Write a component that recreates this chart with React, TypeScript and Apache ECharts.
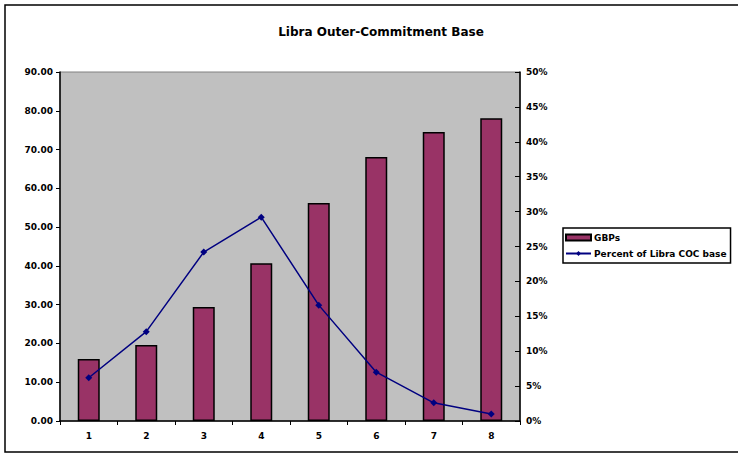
import React, { useEffect, useRef } from "react";
import * as echarts from "echarts";

const categories = ["1", "2", "3", "4", "5", "6", "7", "8"];
const barValues = [16.0, 19.6, 29.4, 40.7, 56.2, 68.1, 74.5, 78.1];
const pctValues = [6.2, 12.8, 24.2, 29.2, 16.6, 7.0, 2.6, 1.0];
const barName = "GBPs";
const lineName = "Percent of Libra COC base";
const titleText = "Libra Outer-Commitment Base";

export default function App() {
  const ref = useRef<HTMLDivElement>(null);
  useEffect(() => {
    document.body.style.margin = "0";
    const chart = echarts.init(ref.current!, null, { renderer: "svg" });
    const font = "'DejaVu Sans', Arial, sans-serif";
    const lbl = { fontSize: 9, fontWeight: "bold", fontFamily: font, color: "#000" };
    chart.setOption({
      animation: false,
      backgroundColor: "#ffffff",
      title: {
        text: titleText,
        left: 376,
        top: 21,
        textAlign: "center",
        textStyle: { fontSize: 12, fontWeight: "bold", fontFamily: font, color: "#000" },
      },
      graphic: [
        {
          type: "rect",
          shape: { x: 5, y: 5, width: 740, height: 447 },
          style: { fill: "none", stroke: "#000", lineWidth: 1.5 },
          silent: true,
        },
      ],
      legend: {
        orient: "vertical",
        left: 563,
        top: 228,
        itemGap: 7,
        itemWidth: 25,
        itemHeight: 6,
        padding: [5, 4, 5, 2],
        borderColor: "#000",
        borderWidth: 1.5,
        backgroundColor: "#fff",
        textStyle: { ...lbl, fontSize: 9, padding: [0, 0, 0, -2] },
        data: [
          { name: barName, icon: "rect" },
          { name: lineName },
        ],
      },
      grid: { left: 60, right: 218, top: 72, bottom: 34, show: true, backgroundColor: "#c0c0c0", borderColor: "#808080", borderWidth: 1 },
      xAxis: {
        type: "category",
        data: categories,
        axisLine: { lineStyle: { color: "#000", width: 1.5 } },
        axisTick: { show: true, length: 4, lineStyle: { color: "#000" } },
        axisLabel: { ...lbl, margin: 10 },
      },
      yAxis: [
        {
          type: "value",
          min: 0,
          max: 90,
          interval: 10,
          axisLine: { show: true, lineStyle: { color: "#000", width: 1.5 } },
          axisTick: { show: true, length: 4, lineStyle: { color: "#000" } },
          splitLine: { show: false },
          axisLabel: { ...lbl, margin: 7, formatter: (v: number) => v.toFixed(2) },
        },
        {
          type: "value",
          min: 0,
          max: 50,
          interval: 5,
          position: "right",
          axisLine: { show: true, lineStyle: { color: "#000", width: 1.5 } },
          axisTick: { show: true, inside: true, length: 5, lineStyle: { color: "#000" } },
          splitLine: { show: false },
          axisLabel: { ...lbl, margin: 6, formatter: (v: number) => v + "%" },
        },
      ],
      series: [
        {
          name: barName,
          type: "bar",
          data: barValues,
          barWidth: 22,
          itemStyle: { color: "#993366", borderColor: "#000", borderWidth: 1.5 },
        },
        {
          name: lineName,
          type: "line",
          yAxisIndex: 1,
          data: pctValues,
          symbol: "diamond",
          symbolSize: 7,
          lineStyle: { color: "#000080", width: 1.5 },
          itemStyle: { color: "#000080" },
        },
      ],
    });
    return () => chart.dispose();
  }, []);
  return <div ref={ref} style={{ width: 738, height: 455 }} />;
}
